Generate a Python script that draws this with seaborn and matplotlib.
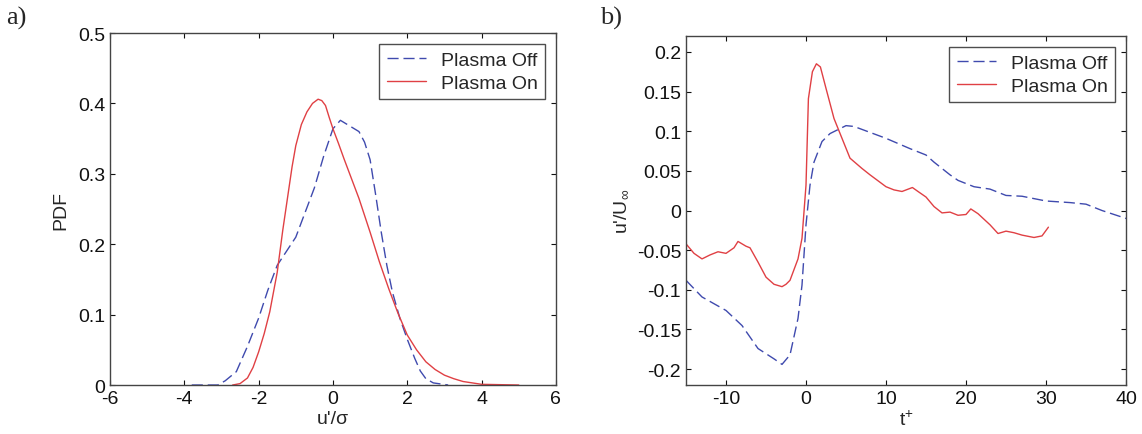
#!/usr/bin/env python3
import pandas as pd
import seaborn as sns
from matplotlib import pyplot as plt

# panel a) PDF of u'/sigma
pdf_x_off = [-3.8, -3.1, -2.9, -2.6, -2.3, -2.0, -1.75, -1.5, -1.25, -1.0, -0.75, -0.5, -0.25, 0.0, 0.2, 0.45,
             0.7, 0.85, 1.0, 1.15, 1.3, 1.45, 1.6, 1.8, 2.0, 2.2, 2.35, 2.5, 2.7, 3.1]
pdf_y_off = [0.0, 0.0, 0.006, 0.019, 0.055, 0.095, 0.135, 0.17, 0.19, 0.21, 0.245, 0.28, 0.325, 0.364, 0.376,
             0.368, 0.36, 0.345, 0.32, 0.27, 0.217, 0.17, 0.132, 0.095, 0.065, 0.038, 0.02, 0.009, 0.003, 0.0]
pdf_x_on = [-2.7, -2.5, -2.3, -2.15, -2.0, -1.85, -1.7, -1.5, -1.35, -1.2, -1.1, -1.0, -0.85, -0.7, -0.55, -0.4,
            -0.3, -0.2, -0.1, 0.0, 0.15, 0.3, 0.5, 0.7, 1.0, 1.25, 1.5, 1.75, 2.0, 2.25, 2.5, 2.75, 3.0, 3.25,
            3.5, 4.0, 5.0]
pdf_y_on = [0.0, 0.002, 0.01, 0.025, 0.047, 0.073, 0.104, 0.16, 0.22, 0.274, 0.31, 0.34, 0.37, 0.388, 0.40,
            0.406, 0.404, 0.397, 0.38, 0.364, 0.343, 0.321, 0.293, 0.265, 0.217, 0.175, 0.137, 0.102, 0.071,
            0.05, 0.033, 0.022, 0.014, 0.009, 0.005, 0.001, 0.0]

# panel b) u'/U_inf vs t+
t_off = [-15, -13, -10, -8, -6, -4, -3, -2, -1, -0.5, 0, 0.5, 1, 2, 3, 5, 6, 10, 13, 15, 16, 18, 19, 21, 23, 25,
         27, 30, 33, 35, 37, 40]
u_off = [-0.088, -0.109, -0.126, -0.145, -0.174, -0.187, -0.194, -0.182, -0.136, -0.094, -0.018, 0.032, 0.061,
         0.087, 0.097, 0.107, 0.106, 0.091, 0.078, 0.070, 0.061, 0.045, 0.038, 0.030, 0.027, 0.019, 0.018, 0.012,
         0.010, 0.008, 0.0, -0.010]
t_on = [-15, -14, -13, -12, -11, -10, -9, -8.5, -7.5, -7, -6, -5, -4, -3, -2.5, -2, -1, -0.5, 0, 0.3, 0.8, 1.3,
        1.8, 2.5, 3.5, 4.5, 5.5, 7, 8, 10, 11, 12, 13.3, 14, 15, 16, 17, 18, 19, 20, 20.6, 21.5, 23, 24, 25, 26,
        27, 28.5, 29.5, 30.3]
u_on = [-0.042, -0.054, -0.061, -0.056, -0.052, -0.054, -0.047, -0.039, -0.045, -0.047, -0.065, -0.084, -0.093,
        -0.096, -0.093, -0.088, -0.061, -0.035, 0.032, 0.141, 0.175, 0.185, 0.181, 0.154, 0.116, 0.091, 0.066,
        0.053, 0.045, 0.030, 0.026, 0.024, 0.029, 0.024, 0.017, 0.005, -0.003, -0.002, -0.006, -0.005, 0.002,
        -0.004, -0.018, -0.029, -0.026, -0.028, -0.031, -0.034, -0.032, -0.021]

labels = ["Plasma Off", "Plasma On"]
BLUE = "#3f4aae"
RED = "#e04044"
DASH = (0, (8, 3.5))


def style_axes(ax):
    ax.tick_params(direction="in", top=True, right=True, length=3.5, width=0.8, labelsize=14, pad=3.5,
                   colors="#111111")
    for s in ax.spines.values():
        s.set_linewidth(1.0)
        s.set_color("#444444")
    leg = ax.legend(loc="upper right", fontsize=14, frameon=True, fancybox=False, edgecolor="#222222",
                    handlelength=2.0, handletextpad=0.75, borderpad=0.4, labelspacing=0.25,
                    borderaxespad=0.55)
    leg.get_frame().set_linewidth(1.0)


def plot():
    sns.set_theme(style="ticks")
    plt.rcParams["font.family"] = ["Liberation Sans", "DejaVu Sans"]
    plt.rcParams["axes.unicode_minus"] = False
    plt.rcParams["mathtext.fontset"] = "custom"
    plt.rcParams["mathtext.rm"] = "Liberation Sans"
    plt.rcParams["mathtext.it"] = "Liberation Sans"

    fig = plt.figure(figsize=(11.42, 4.35), dpi=100)
    ax1 = fig.add_axes([0.0963, 0.1126, 0.3905, 0.8092])
    ax2 = fig.add_axes([0.6007, 0.1126, 0.3853, 0.8023])

    a_off = pd.DataFrame({"x": pdf_x_off, "y": pdf_y_off})
    a_on = pd.DataFrame({"x": pdf_x_on, "y": pdf_y_on})
    sns.lineplot(data=a_off, x="x", y="y", ax=ax1, color=BLUE, lw=1.0, label=labels[0], linestyle=DASH)
    sns.lineplot(data=a_on, x="x", y="y", ax=ax1, color=RED, lw=1.0, label=labels[1])
    ax1.set_xlim(-6, 6)
    ax1.set_ylim(0, 0.5)
    ax1.set_xticks([-6, -4, -2, 0, 2, 4, 6])
    ax1.set_yticks([0, 0.1, 0.2, 0.3, 0.4, 0.5])
    ax1.set_yticklabels(["0", "0.1", "0.2", "0.3", "0.4", "0.5"])
    ax1.set_xlabel("u'/σ", fontsize=14, labelpad=2)
    ax1.set_ylabel("PDF", fontsize=14, labelpad=6)
    style_axes(ax1)

    b_off = pd.DataFrame({"t": t_off, "u": u_off})
    b_on = pd.DataFrame({"t": t_on, "u": u_on})
    sns.lineplot(data=b_off, x="t", y="u", ax=ax2, color=BLUE, lw=1.0, label=labels[0], linestyle=DASH)
    sns.lineplot(data=b_on, x="t", y="u", ax=ax2, color=RED, lw=1.0, label=labels[1])
    ax2.set_xlim(-15, 40)
    ax2.set_ylim(-0.22, 0.22)
    ax2.set_xticks([-10, 0, 10, 20, 30, 40])
    ax2.set_yticks([-0.2, -0.15, -0.1, -0.05, 0, 0.05, 0.1, 0.15, 0.2])
    ax2.set_yticklabels(["-0.2", "-0.15", "-0.1", "-0.05", "0", "0.05", "0.1", "0.15", "0.2"])
    ax2.set_xlabel(r"t$^{+}$", fontsize=14, labelpad=2)
    ax2.set_ylabel(r"u'/U$_{\infty}$", fontsize=14, labelpad=5)
    style_axes(ax2)

    fig.text(6 / 1142, 1 - 25 / 435, "a)", fontsize=19, family="Liberation Serif", va="baseline")
    fig.text(600 / 1142, 1 - 25 / 435, "b)", fontsize=19, family="Liberation Serif", va="baseline")

    fig.savefig("out.png", dpi=100, facecolor="white")
    plt.close(fig)


def main():
    plot()


if __name__ == '__main__':
    main()
